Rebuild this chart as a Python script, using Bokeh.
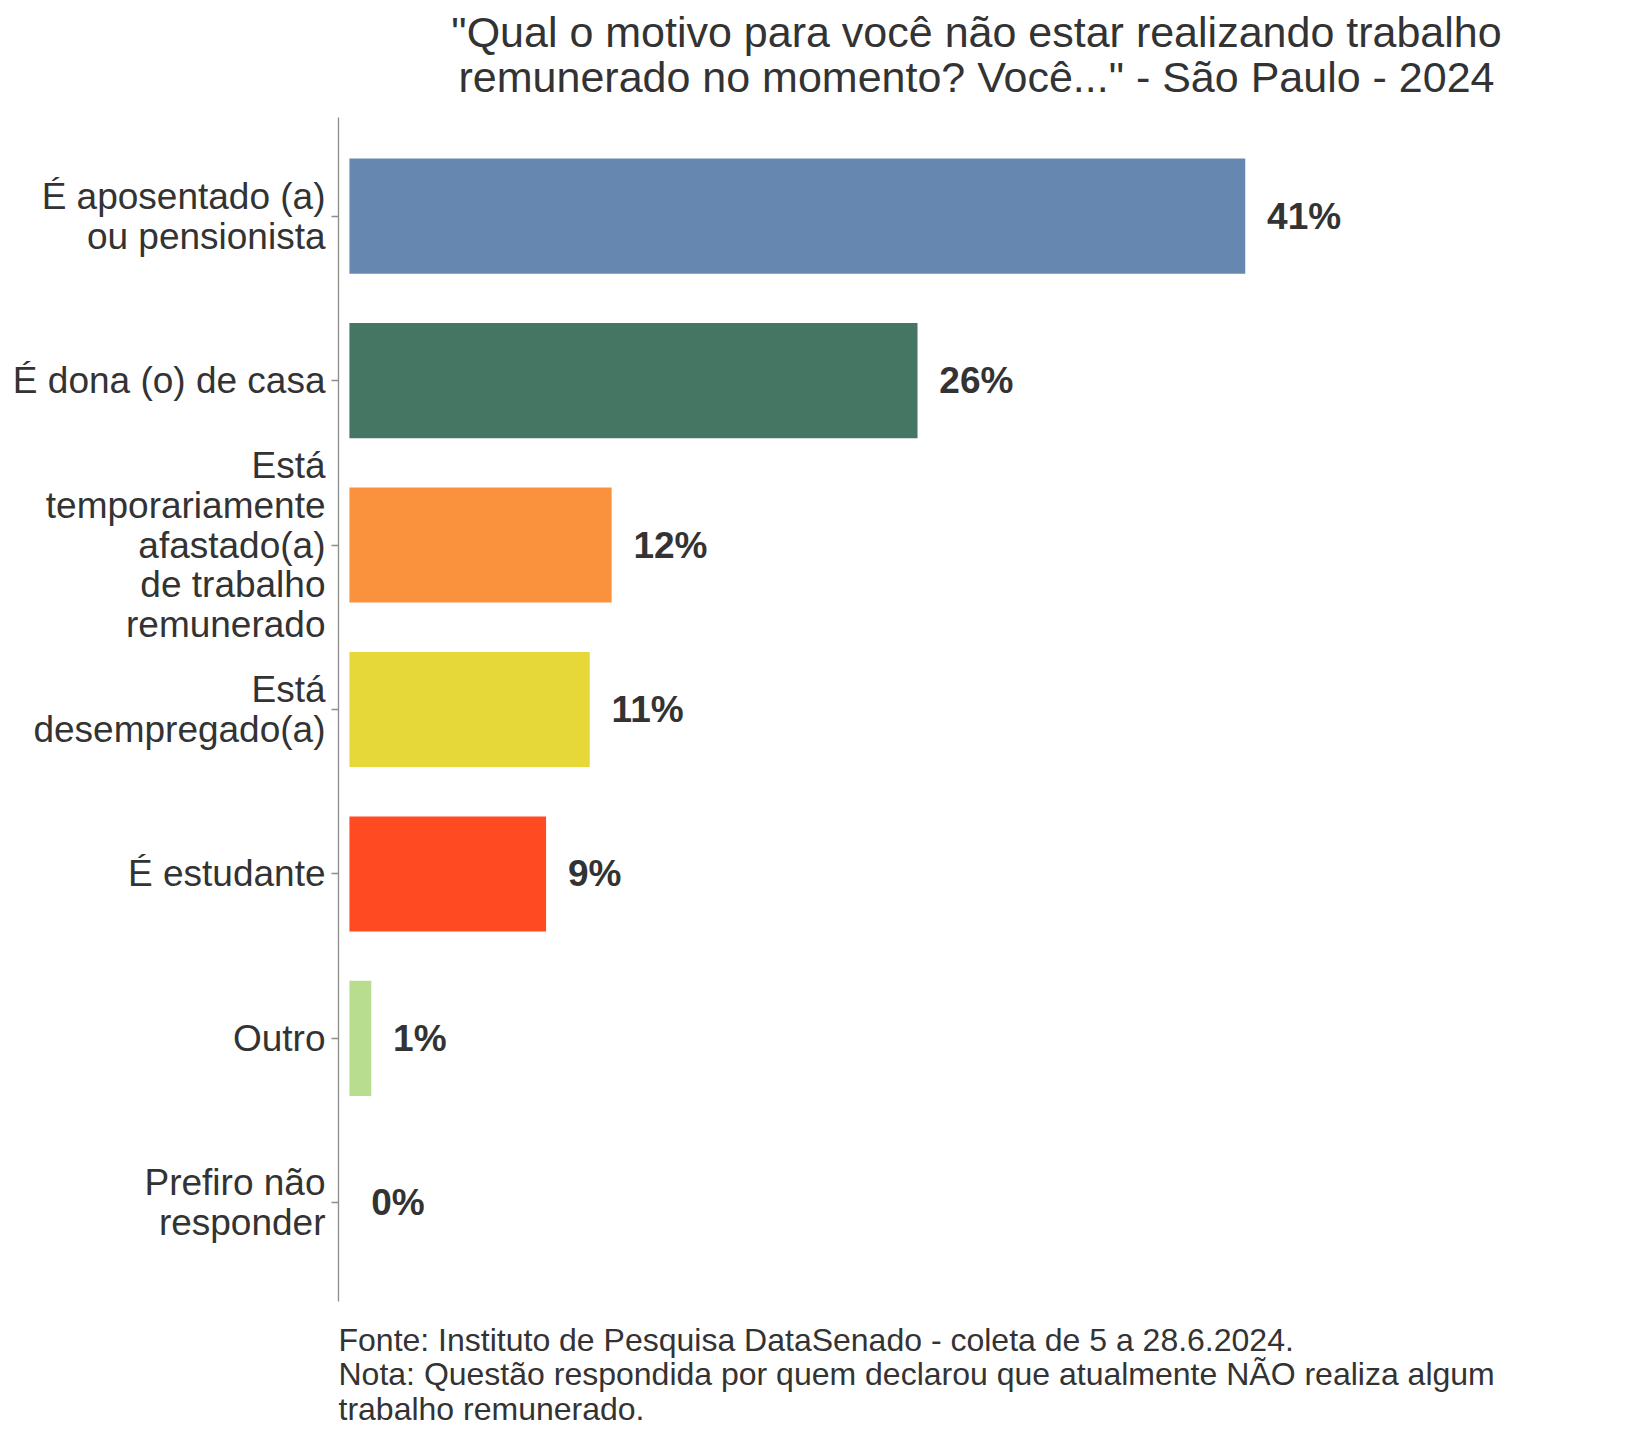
from bokeh.plotting import figure
from bokeh.models import FactorRange, Range1d, Title, ColumnDataSource
from bokeh.core.properties import value
from bokeh.embed import file_html
from bokeh.resources import INLINE

# ---- data ----
categories = [
    "É aposentado (a)\nou pensionista",
    "É dona (o) de casa",
    "Está\ntemporariamente\nafastado(a)\nde trabalho\nremunerado",
    "Está\ndesempregado(a)",
    "É estudante",
    "Outro",
    "Prefiro não\nresponder",
]
values = [41, 26, 12, 11, 9, 1, 0]
colors = ["#6688B0", "#457563", "#F9913D", "#E5D838", "#FF4A22", "#B8DD8F", "#9E9E9E"]
labels = [f"{v}%" for v in values]

title_lines = [
    "\"Qual o motivo para você não estar realizando trabalho",
    "remunerado no momento? Você...\" - São Paulo - 2024",
]
note_lines = [
    "Fonte: Instituto de Pesquisa DataSenado - coleta de 5 a 28.6.2024.",
    "Nota: Questão respondida por quem declarou que atualmente NÃO realiza algum",
    "trabalho remunerado.",
]

FONT = "Liberation Sans"
TXT = "#333333"

src = ColumnDataSource(dict(
    cat=categories, val=values, col=colors, lab=labels,
    lx=[v + 1 for v in values],
))

yr = FactorRange(factors=list(reversed(categories)), range_padding=0.1,
                 range_padding_units="absolute")

p = figure(width=1616, height=1432, y_range=yr, x_range=Range1d(-0.5, 57.9),
           output_backend="svg", toolbar_location=None,
           min_border_left=338, min_border_right=2, min_border_top=117,
           min_border_bottom=131, x_axis_location=None)

p.hbar(y="cat", left=0, right="val", height=0.7, fill_color="col",
       line_color=None, source=src)
p.text(x="lx", y="cat", text="lab", source=src, text_align="left",
       text_baseline="middle", text_font=value(FONT), text_font_size="37px",
       text_font_style="bold", text_color=TXT)

p.grid.visible = False
p.outline_line_color = None
p.background_fill_color = "white"
p.border_fill_color = "white"

ax = p.yaxis[0]
ax.axis_line_color = "#8c8c8c"
ax.axis_line_width = 1.3
ax.major_tick_line_color = "#8c8c8c"
ax.major_tick_line_width = 1.3
ax.major_tick_out = 7
ax.major_tick_in = 0
ax.major_label_standoff = 6
ax.major_label_text_font = FONT
ax.major_label_text_font_size = "37px"
ax.major_label_text_color = TXT
ax.major_label_text_line_height = 0.97

p.title.visible = False
# second line first (closest to the frame), then first line above it
for i, line in enumerate(reversed(title_lines)):
    p.add_layout(Title(text=line, align="center", text_font=FONT,
                       text_font_size="43px", text_font_style="normal",
                       text_color=TXT, standoff=(34 if i == 0 else -45)),
                 "above")

# leading empty line used as vertical spacer below the frame
p.add_layout(Title(text="\n" + "\n".join(note_lines), align="left",
                   vertical_align="top", text_font=FONT,
                   text_font_size="32px", text_font_style="normal",
                   text_color=TXT, text_line_height=0.95, standoff=-27), "below")

open("out.html", "w").write(file_html(p, INLINE))
